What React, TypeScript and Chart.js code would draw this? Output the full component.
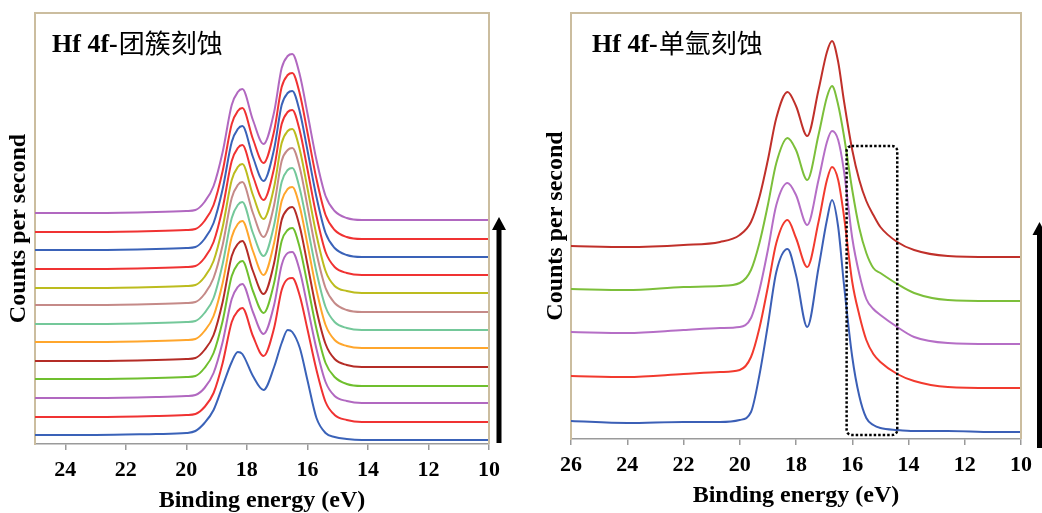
import React, { useEffect, useRef } from 'react';
import { Chart, registerables } from 'chart.js';

Chart.register(...registerables);

const SERIF = '"Liberation Serif", "Times New Roman", Times, serif';
const CJK = '"Noto Sans CJK SC", "Noto Sans CJK TC", sans-serif';

// ---------- Left panel: Hf 4f - cluster etching (13 scans, bottom to top) ----------
const clusterEnergy = [25, 23, 21, 20, 19.7, 19.4, 19.1, 18.8, 18.5, 18.3, 18.15, 17.8, 17.45, 17.1, 16.85, 16.65, 16.5, 16.25, 16.0, 15.7, 15.4, 15.1, 14.7, 14.2, 13, 11, 10];

const clusterScan1 = [9, 9, 10, 11, 13, 21, 34, 58, 82, 92, 90, 68, 54, 77, 101, 114, 112, 96, 64, 26, 11, 7, 5, 4, 4, 4, 4];
const clusterScan2 = [27, 27, 28, 29, 30, 37, 51, 81, 122, 133, 136, 108, 88, 116, 154, 165, 166, 148, 115, 74, 42, 29, 24, 22, 22, 22, 22];
const clusterScan3 = [46, 46, 47, 48, 49, 56, 71, 102, 145, 157, 160, 132, 110, 139, 179, 191, 192, 173, 138, 95, 62, 48, 43, 41, 41, 41, 41];
const clusterScan4 = [65, 65, 66, 67, 68, 76, 91, 123, 168, 180, 183, 153, 131, 161, 203, 214, 216, 196, 160, 115, 81, 67, 60, 58, 58, 58, 58];
const clusterScan5 = [83, 83, 84, 85, 86, 94, 109, 142, 188, 200, 203, 173, 150, 181, 224, 235, 237, 217, 180, 134, 100, 85, 79, 77, 77, 77, 77];
const clusterScan6 = [102, 102, 103, 104, 105, 113, 128, 161, 207, 220, 223, 193, 169, 201, 243, 255, 257, 237, 200, 154, 119, 104, 98, 96, 96, 96, 96];
const clusterScan7 = [120, 120, 121, 122, 123, 131, 146, 180, 226, 239, 242, 211, 188, 219, 262, 274, 276, 255, 218, 172, 137, 122, 116, 114, 114, 114, 114];
const clusterScan8 = [139, 139, 140, 141, 142, 150, 166, 199, 246, 259, 262, 231, 207, 239, 283, 294, 296, 276, 238, 191, 156, 141, 134, 132, 132, 132, 132];
const clusterScan9 = [156, 156, 157, 158, 159, 167, 183, 217, 264, 277, 280, 249, 225, 257, 301, 313, 315, 294, 256, 209, 173, 158, 153, 151, 151, 151, 151];
const clusterScan10 = [175, 175, 176, 177, 178, 186, 202, 236, 283, 296, 299, 268, 244, 276, 320, 332, 334, 313, 275, 228, 192, 177, 171, 169, 169, 169, 169];
const clusterScan11 = [194, 194, 195, 196, 197, 205, 221, 255, 302, 315, 318, 287, 263, 295, 339, 351, 353, 332, 294, 247, 211, 196, 189, 187, 187, 187, 187];
const clusterScan12 = [212, 212, 213, 214, 215, 223, 239, 273, 320, 333, 336, 305, 281, 313, 357, 369, 371, 350, 312, 265, 229, 214, 207, 205, 205, 205, 205];
const clusterScan13 = [231, 231, 232, 233, 234, 242, 258, 292, 339, 352, 355, 324, 300, 332, 376, 388, 390, 369, 331, 284, 248, 233, 226, 224, 224, 224, 224];

const clusterColors = ['#3a62b8', '#f03232', '#b168c0', '#6fbf2e', '#b42c26', '#ffa62c', '#74c89a', '#c58a88', '#bcbc1e', '#f03232', '#3a62b8', '#f03232', '#b168c0'];

// ---------- Right panel: Hf 4f - monatomic argon etching (5 scans, bottom to top) ----------
const argonEnergy = [26, 24, 22, 20.7, 20, 19.6, 19.3, 19.0, 18.7, 18.3, 18.0, 17.6, 17.2, 16.9, 16.72, 16.5, 16.3, 16.0, 15.75, 15.5, 15.25, 15.0, 14.4, 13.8, 12.6, 11, 10];

const argonScan1 = [18, 16, 17, 17, 19, 27, 64, 114, 167, 190, 164, 112, 171, 219, 239, 212, 156, 82, 43, 21, 14, 11, 9, 8, 8, 7, 7];
const argonScan2 = [63, 62, 65, 67, 69, 82, 111, 152, 196, 219, 201, 172, 217, 259, 272, 259, 224, 157, 124, 99, 85, 77, 65, 58, 52, 51, 51];
const argonScan3 = [107, 106, 109, 111, 112, 121, 149, 189, 234, 256, 244, 214, 259, 297, 308, 299, 269, 201, 165, 140, 130, 124, 112, 102, 96, 95, 95];
const argonScan4 = [150, 149, 152, 153, 156, 169, 196, 234, 276, 301, 289, 259, 304, 342, 353, 334, 304, 249, 211, 186, 171, 166, 155, 146, 139, 138, 138];
const argonScan5 = [193, 192, 194, 197, 204, 217, 242, 279, 321, 347, 333, 303, 349, 387, 398, 377, 339, 289, 259, 238, 224, 212, 197, 189, 183, 182, 182];

const argonColors = ['#3b5fb6', '#f23a2e', '#b56ec6', '#7cbf3a', '#c0302a'];

const xTickStep = 2;

const decorPlugin = {
  id: 'decor',
  afterDraw(chart: any, _args: any, opts: any) {
    const { ctx, chartArea: a, scales } = chart;
    ctx.save();
    // top + right frame
    ctx.strokeStyle = '#cbbd9f';
    ctx.lineWidth = 2;
    ctx.beginPath();
    ctx.moveTo(a.left, a.top);
    ctx.lineTo(a.right, a.top);
    ctx.lineTo(a.right, a.bottom);
    ctx.stroke();

    // panel title
    ctx.fillStyle = '#000';
    ctx.textBaseline = 'alphabetic';
    ctx.textAlign = 'left';
    const x0 = a.left + opts.titleDx;
    ctx.font = `bold 26px ${SERIF}`;
    ctx.fillText(opts.titleLatin, x0, opts.titleBaseline);
    const w = ctx.measureText(opts.titleLatin).width;
    ctx.font = `26px ${CJK}`;
    ctx.fillText(opts.titleCjk, x0 + w + 1, opts.titleBaseline + 1);

    // dotted highlight box
    if (opts.box) {
      const bx1 = scales.x.getPixelForValue(opts.box.x1);
      const bx2 = scales.x.getPixelForValue(opts.box.x2);
      const by1 = scales.y.getPixelForValue(opts.box.y1);
      const by2 = scales.y.getPixelForValue(opts.box.y2);
      ctx.strokeStyle = '#000';
      ctx.lineWidth = 2.5;
      ctx.setLineDash([2.5, 2]);
      ctx.beginPath();
      const l = Math.min(bx1, bx2), t = Math.min(by1, by2);
      const ww = Math.abs(bx2 - bx1), hh = Math.abs(by2 - by1);
      if ((ctx as any).roundRect) (ctx as any).roundRect(l, t, ww, hh, 5);
      else ctx.rect(l, t, ww, hh);
      ctx.stroke();
      ctx.setLineDash([]);
    }

    // arrow
    if (opts.arrow) {
      const ax = a.right + opts.arrow.dx;
      const yTop = scales.y.getPixelForValue(opts.arrow.top);
      const yBot = a.bottom + opts.arrow.bottomDy;
      ctx.fillStyle = '#000';
      ctx.fillRect(ax - 2.5, yTop + 11, 5, yBot - yTop - 11);
      ctx.beginPath();
      ctx.moveTo(ax, yTop);
      ctx.lineTo(ax - 7, yTop + 13);
      ctx.lineTo(ax + 7, yTop + 13);
      ctx.closePath();
      ctx.fill();
    }
    ctx.restore();
  },
};

type Panel = {
  energy: number[];
  series: number[][];
  colors: string[];
  xMin: number;
  xMax: number;
  yMax: number;
  padRight: number;
  yAxisWidth: number;
  xAxisHeight: number;
  yTitlePad: number;
  xTitlePad: number;
  decor: any;
};

function buildConfig(p: Panel): any {
  return {
    type: 'line',
    data: {
      datasets: p.series.map((ys, i) => ({
        label: `scan ${i + 1}`,
        data: p.energy.map((e, j) => ({ x: e, y: ys[j] })),
        borderColor: p.colors[i],
        backgroundColor: p.colors[i],
        borderWidth: 2,
        pointRadius: 0,
        fill: false,
        cubicInterpolationMode: 'monotone',
      })),
    },
    options: {
      responsive: false,
      animation: false,
      devicePixelRatio: 1,
      events: [],
      layout: { padding: { top: 13, right: p.padRight, left: 0, bottom: 0 } },
      plugins: {
        legend: { display: false },
        tooltip: { enabled: false },
        decor: p.decor,
      },
      scales: {
        x: {
          type: 'linear',
          min: p.xMin,
          max: p.xMax,
          reverse: true,
          afterFit: (s: any) => { s.height = p.xAxisHeight; },
          ticks: {
            stepSize: xTickStep,
            includeBounds: false,
            color: '#000',
            padding: 7,
            maxRotation: 0,
            autoSkip: false,
            font: { family: SERIF, size: 22, weight: 'bold' },
          },
          grid: { display: true, drawOnChartArea: false, drawTicks: true, tickLength: 6, color: '#9a9a9a', lineWidth: 1.5 },
          border: { display: true, color: '#9a9a9a', width: 1.5 },
          title: {
            display: true,
            text: 'Binding energy (eV)',
            color: '#000',
            font: { family: SERIF, size: 24, weight: 'bold', lineHeight: 1 },
            padding: { top: 0, bottom: p.xTitlePad },
          },
        },
        y: {
          type: 'linear',
          min: 0,
          max: p.yMax,
          afterFit: (s: any) => { s.width = p.yAxisWidth; },
          ticks: { display: false },
          grid: { display: false },
          border: { display: true, color: '#cbbd9f', width: 2 },
          title: {
            display: true,
            text: 'Counts per second',
            color: '#000',
            font: { family: SERIF, size: 24, weight: 'bold', lineHeight: 1 },
            padding: { top: p.yTitlePad, bottom: 0 },
          },
        },
      },
    },
    plugins: [decorPlugin],
  };
}

const leftPanel: Panel = {
  energy: clusterEnergy,
  series: [clusterScan1, clusterScan2, clusterScan3, clusterScan4, clusterScan5, clusterScan6, clusterScan7, clusterScan8, clusterScan9, clusterScan10, clusterScan11, clusterScan12, clusterScan13],
  colors: clusterColors,
  xMin: 10,
  xMax: 25,
  yMax: 431,
  padRight: 31,
  yAxisWidth: 35,
  xAxisHeight: 69,
  yTitlePad: 6.5,
  xTitlePad: 0.5,
  decor: {
    titleLatin: 'Hf 4f-',
    titleCjk: '团簇刻蚀',
    titleDx: 17,
    titleBaseline: 52,
    arrow: { dx: 10, top: 227, bottomDy: -1 },
  },
};

const rightPanel: Panel = {
  energy: argonEnergy,
  series: [argonScan1, argonScan2, argonScan3, argonScan4, argonScan5],
  colors: argonColors,
  xMin: 10,
  xMax: 26,
  yMax: 426,
  padRight: 21,
  yAxisWidth: 51,
  xAxisHeight: 74,
  yTitlePad: 23.5,
  xTitlePad: 5,
  decor: {
    titleLatin: 'Hf 4f-',
    titleCjk: '单氩刻蚀',
    titleDx: 21,
    titleBaseline: 52,
    box: { x1: 16.2, x2: 14.4, y1: 293, y2: 4 },
    arrow: { dx: 18.5, top: 217, bottomDy: 9 },
  },
};

function PanelChart({ panel, left, width }: { panel: Panel; left: number; width: number }) {
  const ref = useRef<HTMLCanvasElement | null>(null);
  useEffect(() => {
    if (!ref.current) return;
    const chart = new Chart(ref.current, buildConfig(panel));
    return () => chart.destroy();
  }, [panel]);
  return (
    <canvas
      ref={ref}
      width={width}
      height={513}
      style={{ position: 'absolute', left, top: 0, width, height: 513 }}
    />
  );
}

export default function App() {
  return (
    <div style={{ position: 'absolute', left: 0, top: 0, width: 1042, height: 513, background: '#fff', overflow: 'hidden' }}>
      <PanelChart panel={leftPanel} left={0} width={520} />
      <PanelChart panel={rightPanel} left={520} width={522} />
    </div>
  );
}
